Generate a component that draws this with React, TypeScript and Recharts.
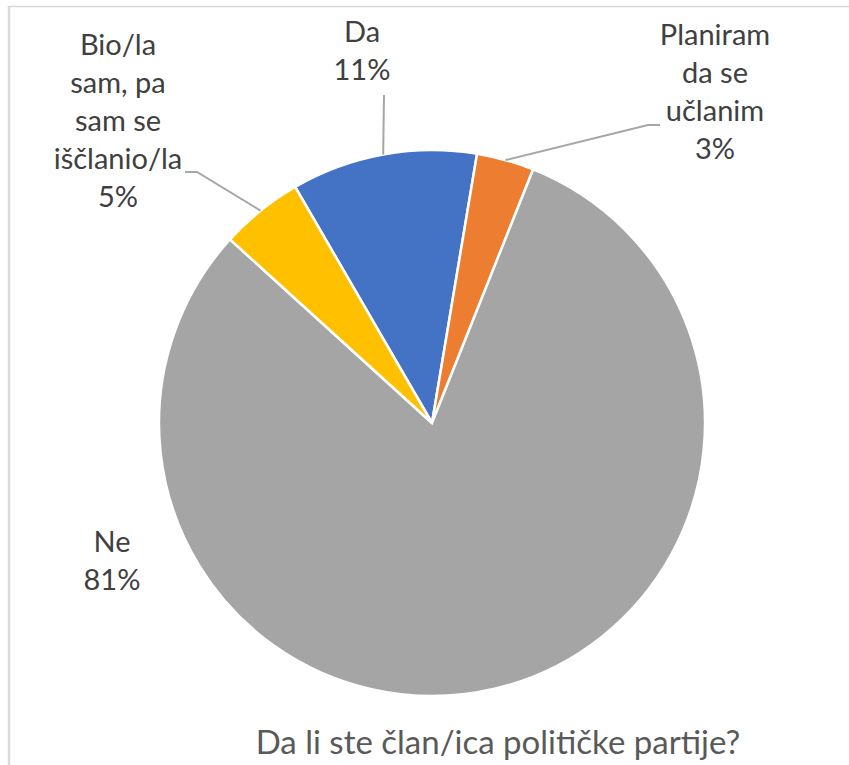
import { PieChart, Pie, Cell } from 'recharts'

const categories = ['Da', 'Planiram da se učlanim', 'Ne', 'Bio/la sam, pa sam se iščlanio/la']
const shares = [11.0, 3.4, 80.7, 4.9]
const colors = ['#4472C4', '#ED7D31', '#A5A5A5', '#FFC000']
// label text split into lines the way the reference wraps them
const labelLines = [['Da'], ['Planiram', 'da se', 'učlanim'], ['Ne'], ['Bio/la', 'sam, pa', 'sam se', 'iščlanio/la']]
const title = 'Da li ste član/ica političke partije?'

const data = categories.map((name, i) => ({ name, value: shares[i], lines: labelLines[i] }))

const CX = 432
const CY = 423
const R = 273
const FONT = 'Lato, "Liberation Sans", sans-serif'
const RAD = Math.PI / 180

// where each data label sits, relative to the pie centre (first line centre),
// plus the leader elbow (relative too); null = no leader
const labelPlace: Record<string, { dx: number; dy: number; lead: [number, number][] | null }> = {
  'Da': { dx: -70, dy: -393, lead: [[-48, -328]] },
  'Planiram da se učlanim': { dx: 283, dy: -390, lead: [[228, -298], [216, -298]] },
  'Ne': { dx: -320, dy: 117, lead: null },
  'Bio/la sam, pa sam se iščlanio/la': { dx: -314, dy: -380, lead: [[-247, -251], [-235, -251]] },
}

function renderLabel(props: any) {
  const { cx, cy, midAngle, outerRadius, percent, name, payload } = props
  const place = labelPlace[name]
  if (!place) return null
  const lines: string[] = [...(payload?.lines ?? [name]), `${Math.round(percent * 100)}%`]
  const ex = cx + outerRadius * Math.cos(-midAngle * RAD)
  const ey = cy + outerRadius * Math.sin(-midAngle * RAD)
  let path = ''
  if (place.lead) {
    const pts = place.lead.map(([x, y]) => `${cx + x},${cy + y}`)
    path = `M${pts.join(' L')} L${ex},${ey}`
  }
  return (
    <g>
      {path && <path d={path} stroke="#A6A6A6" strokeWidth={2} fill="none" />}
      <text x={cx + place.dx} y={cy + place.dy} textAnchor="middle" fill="#404040" fontSize={29} fontFamily={FONT}>
        {lines.map((l, i) => (
          <tspan key={i} x={cx + place.dx} dy={i === 0 ? 0 : 38} dominantBaseline="central">{l}</tspan>
        ))}
      </text>
    </g>
  )
}

export default function App() {
  return (
    <div style={{ position: 'fixed', left: 0, top: 0, width: 849, height: 765, background: '#fff' }}>
      <svg width={849} height={765} style={{ position: 'absolute', left: 0, top: 0 }}>
        <line x1={9} y1={6.5} x2={849} y2={6.5} stroke="#D9D9D9" strokeWidth={1.5} />
        <line x1={9} y1={6} x2={9} y2={765} stroke="#D9D9D9" strokeWidth={2.5} />
        <text x={498} y={741} textAnchor="middle" dominantBaseline="central" fill="#595959" fontSize={33} fontFamily={FONT}>
          {title}
        </text>
      </svg>
      <div style={{ position: 'absolute', left: 0, top: 0 }}>
        <PieChart width={849} height={765} margin={{ top: 0, right: 0, bottom: 0, left: 0 }}>
          <Pie
            data={data}
            dataKey="value"
            nameKey="name"
            cx={CX}
            cy={CY}
            outerRadius={R}
            startAngle={120.1}
            endAngle={-239.9}
            stroke="#fff"
            strokeWidth={2.5}
            label={renderLabel}
            labelLine={false}
            isAnimationActive={false}
          >
            {data.map((d, i) => <Cell key={d.name} fill={colors[i]} />)}
          </Pie>
        </PieChart>
      </div>
    </div>
  )
}
